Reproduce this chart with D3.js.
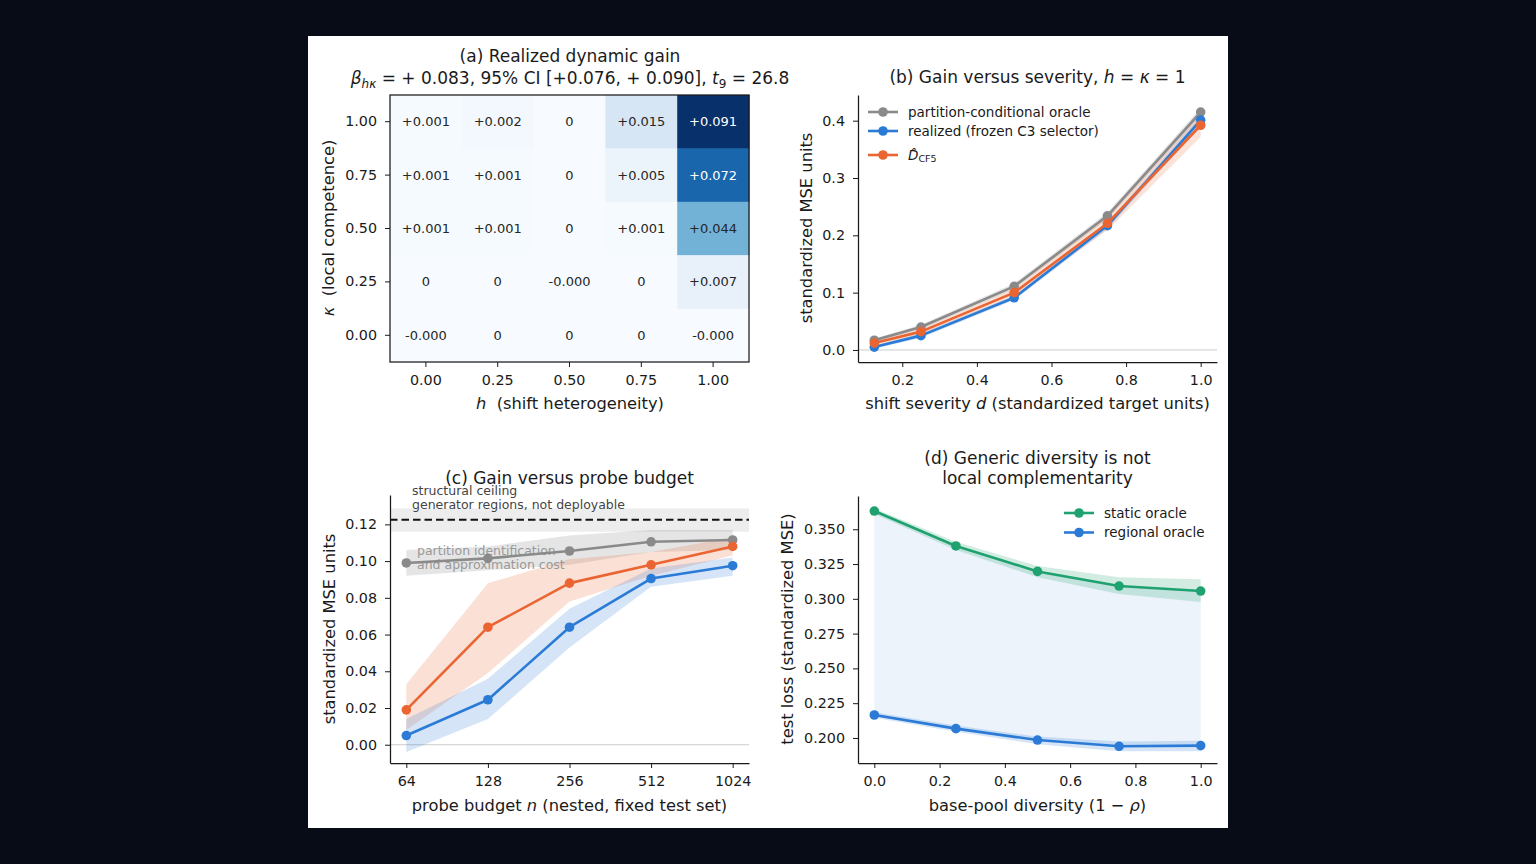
<!DOCTYPE html>
<html>
<head>
<meta charset="utf-8">
<title>Dynamic gain panels</title>
<style>
  body { margin: 0; background: #080c16; }
  svg { display: block; }
  text { font-family: "DejaVu Sans", sans-serif; }
</style>
</head>
<body>
<script src="https://d3js.org/d3.v7.min.js"></script>
<script>
// ---- data ----
// (a) heatmap, rows top->bottom = kappa 1.00 .. 0.00
var hValues = [0, 0.25, 0.5, 0.75, 1.0];
var kappaValues = [1.0, 0.75, 0.5, 0.25, 0];
var gainGrid = [
  [0.001, 0.002, 0, 0.015, 0.091],
  [0.001, 0.001, 0, 0.005, 0.072],
  [0.001, 0.001, 0, 0.001, 0.044],
  [0, 0, -0.0002, 0, 0.007],
  [-0.0002, 0, 0, 0, -0.0002]
];

// (b) gain versus severity
var severity = [0.125, 0.25, 0.5, 0.75, 1.0];
var oracleB = [0.017, 0.040, 0.111, 0.234, 0.415];
var oracleBLo = [0.014, 0.036, 0.106, 0.228, 0.408];
var oracleBHi = [0.020, 0.044, 0.116, 0.240, 0.422];
var realizedB = [0.005, 0.025, 0.091, 0.217, 0.401];
var realizedBLo = [0.002, 0.021, 0.087, 0.211, 0.393];
var realizedBHi = [0.008, 0.029, 0.095, 0.223, 0.409];
var dcfB = [0.012, 0.032, 0.100, 0.221, 0.392];
var dcfBLo = [0.008, 0.027, 0.093, 0.209, 0.372];
var dcfBHi = [0.016, 0.037, 0.107, 0.233, 0.412];

// (c) gain versus probe budget
var budgets = [64, 128, 256, 512, 1024];
var oracleC = [0.099, 0.1015, 0.1055, 0.1105, 0.1115];
var oracleCLo = [0.092, 0.095, 0.098, 0.105, 0.106];
var oracleCHi = [0.106, 0.108, 0.114, 0.117, 0.117];
var realizedC = [0.005, 0.0245, 0.064, 0.0905, 0.0975];
var realizedCLo = [-0.004, 0.014, 0.053, 0.086, 0.092];
var realizedCHi = [0.014, 0.036, 0.074, 0.096, 0.102];
var dcfC = [0.019, 0.064, 0.088, 0.098, 0.108];
var dcfCLo = [0.008, 0.039, 0.078, 0.092, 0.103];
var dcfCHi = [0.033, 0.088, 0.101, 0.105, 0.113];
var ceiling = 0.1225, ceilingLo = 0.116, ceilingHi = 0.1287;

// (d) generic diversity
var diversity = [0, 0.25, 0.5, 0.75, 1.0];
var staticD = [0.3631, 0.338, 0.3197, 0.3092, 0.3056];
var staticDLo = [0.361, 0.335, 0.3155, 0.3035, 0.2977];
var staticDHi = [0.365, 0.341, 0.3235, 0.3155, 0.314];
var regionalD = [0.2165, 0.2067, 0.1985, 0.194, 0.1945];
var regionalDLo = [0.2145, 0.2045, 0.1955, 0.1905, 0.1905];
var regionalDHi = [0.2185, 0.209, 0.201, 0.1975, 0.198];

var GRAY = "#8a8a8a", BLUE = "#2b7bd6", ORANGE = "#ea6532", GREEN = "#1fa270";
var INK = "#1a1a1a";
var LABEL_SIZE = 16.3;

var svg = d3.select("body").append("svg").attr("width", 1536).attr("height", 864);
svg.append("rect").attr("x", 308).attr("y", 36).attr("width", 920).attr("height", 792).attr("fill", "#fff");

function styleAxis(g) {
  g.attr("font-family", "DejaVu Sans, sans-serif").attr("font-size", 14.3);
  g.selectAll("text").attr("fill", INK);
  g.select(".domain").attr("stroke", INK).attr("stroke-width", 1.25);
  g.selectAll(".tick line").attr("stroke", INK).attr("stroke-width", 1);
}

function bottomAxis(scale, yPos, ticks, fmt) {
  var g = svg.append("g").attr("transform", "translate(0," + yPos + ")")
    .call(d3.axisBottom(scale).tickValues(ticks).tickFormat(fmt).tickSize(5).tickSizeOuter(0).tickPadding(8));
  styleAxis(g);
  return g;
}
function leftAxis(scale, xPos, ticks, fmt) {
  var g = svg.append("g").attr("transform", "translate(" + xPos + ",0)")
    .call(d3.axisLeft(scale).tickValues(ticks).tickFormat(fmt).tickSize(5).tickSizeOuter(0).tickPadding(8));
  styleAxis(g);
  return g;
}

function yLabel(x, y, parts) {
  var t = svg.append("text").attr("transform", "translate(" + x + "," + y + ") rotate(-90)")
    .attr("text-anchor", "middle").attr("font-size", LABEL_SIZE).attr("fill", INK);
  parts.forEach(function(p) {
    t.append("tspan").attr("font-style", p[1] ? "italic" : null).text(p[0]);
  });
}
function xLabel(x, y, parts) {
  var t = svg.append("text").attr("x", x).attr("y", y)
    .attr("text-anchor", "middle").attr("font-size", LABEL_SIZE).attr("fill", INK);
  parts.forEach(function(p) {
    t.append("tspan").attr("font-style", p[1] ? "italic" : null).text(p[0]);
  });
}

function band(x, y, xs, lo, hi, color, op) {
  var area = d3.area()
    .x(function(d, i) { return x(xs[i]); })
    .y0(function(d, i) { return y(lo[i]); })
    .y1(function(d, i) { return y(hi[i]); });
  svg.append("path").datum(xs).attr("d", area).attr("fill", color).attr("fill-opacity", op);
}
function series(x, y, xs, ys, color) {
  var line = d3.line().x(function(d, i) { return x(xs[i]); }).y(function(d) { return y(d); });
  svg.append("path").datum(ys).attr("d", line).attr("fill", "none")
    .attr("stroke", color).attr("stroke-width", 2.6).attr("stroke-linejoin", "round");
  svg.append("g").selectAll("circle").data(ys).join("circle")
    .attr("cx", function(d, i) { return x(xs[i]); })
    .attr("cy", function(d) { return y(d); })
    .attr("r", 4.8).attr("fill", color);
}
function legendKey(x, y, color) {
  svg.append("line").attr("x1", x).attr("x2", x + 30).attr("y1", y).attr("y2", y)
    .attr("stroke", color).attr("stroke-width", 2.6);
  svg.append("circle").attr("cx", x + 15).attr("cy", y).attr("r", 4.8).attr("fill", color);
}

// ================= (a) heatmap =================
var ax = d3.scaleBand().domain(hValues).range([390, 749]);
var ay = d3.scaleBand().domain(kappaValues).range([95, 362]);
var color = d3.scaleSequential(d3.interpolateBlues).domain([0, 0.091]).clamp(true);

var cells = [];
gainGrid.forEach(function(row, r) {
  row.forEach(function(v, c) { cells.push({h: hValues[c], k: kappaValues[r], v: v}); });
});
svg.append("g").selectAll("rect").data(cells).join("rect")
  .attr("x", function(d) { return ax(d.h); })
  .attr("y", function(d) { return ay(d.k); })
  .attr("width", ax.bandwidth() + 0.5).attr("height", ay.bandwidth() + 0.5)
  .attr("fill", function(d) { return color(d.v); });
svg.append("g").selectAll("text").data(cells).join("text")
  .attr("x", function(d) { return ax(d.h) + ax.bandwidth() / 2; })
  .attr("y", function(d) { return ay(d.k) + ay.bandwidth() / 2; })
  .attr("dy", "0.35em").attr("text-anchor", "middle").attr("font-size", 13)
  .attr("fill", function(d) { return d.v / 0.091 > 0.6 ? "#fff" : "#262626"; })
  .text(function(d) {
    if (d.v === 0) return "0";
    return (d.v > 0 ? "+" : "-") + Math.abs(d.v).toFixed(3);
  });
svg.append("rect").attr("x", 390).attr("y", 95).attr("width", 359).attr("height", 267)
  .attr("fill", "none").attr("stroke", INK).attr("stroke-width", 1.25);
var gax = bottomAxis(ax, 362, hValues, function(d) { return d.toFixed(2); });
gax.select(".domain").remove();
var gay = leftAxis(ay, 390, kappaValues, function(d) { return d.toFixed(2); });
gay.select(".domain").remove();

svg.append("text").attr("x", 570).attr("y", 62).attr("text-anchor", "middle")
  .attr("font-size", 17).attr("fill", INK).text("(a) Realized dynamic gain");
var t2 = svg.append("text").attr("x", 570).attr("y", 84).attr("text-anchor", "middle")
  .attr("font-size", 17).attr("fill", INK);
t2.append("tspan").attr("font-style", "italic").text("β");
t2.append("tspan").attr("font-style", "italic").attr("font-size", 12).attr("dy", 4).text("hκ");
t2.append("tspan").attr("dy", -4).text(" = + 0.083, 95% CI [+0.076, + 0.090], ");
t2.append("tspan").attr("font-style", "italic").text("t");
t2.append("tspan").attr("font-size", 12).attr("dy", 4).text("9");
t2.append("tspan").attr("dy", -4).text(" = 26.8");

xLabel(570, 409, [["h", true], ["\u00a0 (shift heterogeneity)", false]]);
yLabel(334, 228, [["κ", true], ["\u00a0 (local competence)", false]]);

// ================= (b) severity =================
var bx = d3.scaleLinear().domain([0.08125, 1.04375]).range([858, 1217]);
var by = d3.scaleLinear().domain([-0.021, 0.4448]).range([362, 95]);
svg.append("line").attr("x1", 858).attr("x2", 1217).attr("y1", by(0)).attr("y2", by(0))
  .attr("stroke", "#cccccc").attr("stroke-width", 1);
band(bx, by, severity, oracleBLo, oracleBHi, GRAY, 0.22);
band(bx, by, severity, realizedBLo, realizedBHi, BLUE, 0.2);
band(bx, by, severity, dcfBLo, dcfBHi, ORANGE, 0.18);
series(bx, by, severity, oracleB, GRAY);
series(bx, by, severity, realizedB, BLUE);
series(bx, by, severity, dcfB, ORANGE);
bottomAxis(bx, 362, [0.2, 0.4, 0.6, 0.8, 1.0], d3.format(".1f"));
leftAxis(by, 858, [0, 0.1, 0.2, 0.3, 0.4], d3.format(".1f"));

var tb = svg.append("text").attr("x", 1037.5).attr("y", 83).attr("text-anchor", "middle")
  .attr("font-size", 17).attr("fill", INK);
tb.append("tspan").text("(b) Gain versus severity, ");
tb.append("tspan").attr("font-style", "italic").text("h");
tb.append("tspan").text(" = ");
tb.append("tspan").attr("font-style", "italic").text("κ");
tb.append("tspan").text(" = 1");
xLabel(1037.5, 409, [["shift severity ", false], ["d", true], [" (standardized target units)", false]]);
yLabel(812, 228, [["standardized MSE units", false]]);

var legB = [["partition-conditional oracle", GRAY, 112], ["realized (frozen C3 selector)", BLUE, 131], ["", ORANGE, 155]];
legB.forEach(function(l) {
  legendKey(868, l[2], l[1]);
  if (l[0]) {
    svg.append("text").attr("x", 908).attr("y", l[2]).attr("dy", "0.35em")
      .attr("font-size", 13.5).attr("fill", INK).text(l[0]);
  }
});
var dl = svg.append("text").attr("x", 908).attr("y", 160).attr("font-size", 13.5).attr("fill", INK);
dl.append("tspan").attr("font-style", "italic").text("D\u0302");
dl.append("tspan").attr("font-size", 9.5).attr("dy", 2).text("CF5");

// ================= (c) probe budget =================
var cx = d3.scaleLog().base(2).domain([64 / Math.pow(2, 0.2), 1024 * Math.pow(2, 0.2)]).range([390, 749]);
var cy = d3.scaleLinear().domain([-0.00995, 0.136]).range([763, 495]);
svg.append("rect").attr("x", 390).attr("y", cy(ceilingHi)).attr("width", 359)
  .attr("height", cy(ceilingLo) - cy(ceilingHi)).attr("fill", "#000").attr("fill-opacity", 0.07);
svg.append("line").attr("x1", 390).attr("x2", 749).attr("y1", cy(ceiling)).attr("y2", cy(ceiling))
  .attr("stroke", "#111").attr("stroke-width", 2).attr("stroke-dasharray", "7.5,4");
svg.append("line").attr("x1", 390).attr("x2", 749).attr("y1", cy(0)).attr("y2", cy(0))
  .attr("stroke", "#cccccc").attr("stroke-width", 1);
band(cx, cy, budgets, oracleCLo, oracleCHi, GRAY, 0.22);
band(cx, cy, budgets, dcfCLo, dcfCHi, ORANGE, 0.2);
band(cx, cy, budgets, realizedCLo, realizedCHi, BLUE, 0.2);
svg.append("text").attr("x", 412).attr("y", 495).attr("font-size", 12.5).attr("fill", "#444").text("structural ceiling");
svg.append("text").attr("x", 412).attr("y", 508.5).attr("font-size", 12.5).attr("fill", "#444").text("generator regions, not deployable");
svg.append("text").attr("x", 417).attr("y", 554.5).attr("font-size", 12.5).attr("fill", "#999").text("partition identification");
svg.append("text").attr("x", 417).attr("y", 568.5).attr("font-size", 12.5).attr("fill", "#999").text("and approximation cost");
series(cx, cy, budgets, oracleC, GRAY);
series(cx, cy, budgets, realizedC, BLUE);
series(cx, cy, budgets, dcfC, ORANGE);
bottomAxis(cx, 763, budgets, d3.format("d"));
leftAxis(cy, 390, [0, 0.02, 0.04, 0.06, 0.08, 0.10, 0.12], d3.format(".2f"));

svg.append("text").attr("x", 569.5).attr("y", 484).attr("text-anchor", "middle")
  .attr("font-size", 17).attr("fill", INK).text("(c) Gain versus probe budget");
xLabel(569.5, 811, [["probe budget ", false], ["n", true], [" (nested, fixed test set)", false]]);
yLabel(335, 629, [["standardized MSE units", false]]);

// ================= (d) diversity =================
var dx = d3.scaleLinear().domain([-0.05, 1.05]).range([858, 1217]);
var dy = d3.scaleLinear().domain([0.182, 0.3739]).range([763, 496]);
band(dx, dy, diversity, regionalD, staticD, BLUE, 0.09);
band(dx, dy, diversity, staticDLo, staticDHi, GREEN, 0.2);
band(dx, dy, diversity, regionalDLo, regionalDHi, BLUE, 0.2);
series(dx, dy, diversity, staticD, GREEN);
series(dx, dy, diversity, regionalD, BLUE);
bottomAxis(dx, 763, [0, 0.2, 0.4, 0.6, 0.8, 1.0], d3.format(".1f"));
leftAxis(dy, 858, [0.2, 0.225, 0.25, 0.275, 0.3, 0.325, 0.35], d3.format(".3f"));

svg.append("text").attr("x", 1037.5).attr("y", 464).attr("text-anchor", "middle")
  .attr("font-size", 17).attr("fill", INK).text("(d) Generic diversity is not");
svg.append("text").attr("x", 1037.5).attr("y", 484).attr("text-anchor", "middle")
  .attr("font-size", 17).attr("fill", INK).text("local complementarity");
xLabel(1037.5, 811, [["base-pool diversity (1 \u2212 ", false], ["ρ", true], [")", false]]);
yLabel(793, 629, [["test loss (standardized MSE)", false]]);

var legD = [["static oracle", GREEN, 513], ["regional oracle", BLUE, 532.5]];
legD.forEach(function(l) {
  legendKey(1064, l[2], l[1]);
  svg.append("text").attr("x", 1104).attr("y", l[2]).attr("dy", "0.35em")
    .attr("font-size", 13.5).attr("fill", INK).text(l[0]);
});
</script>
</body>
</html>
